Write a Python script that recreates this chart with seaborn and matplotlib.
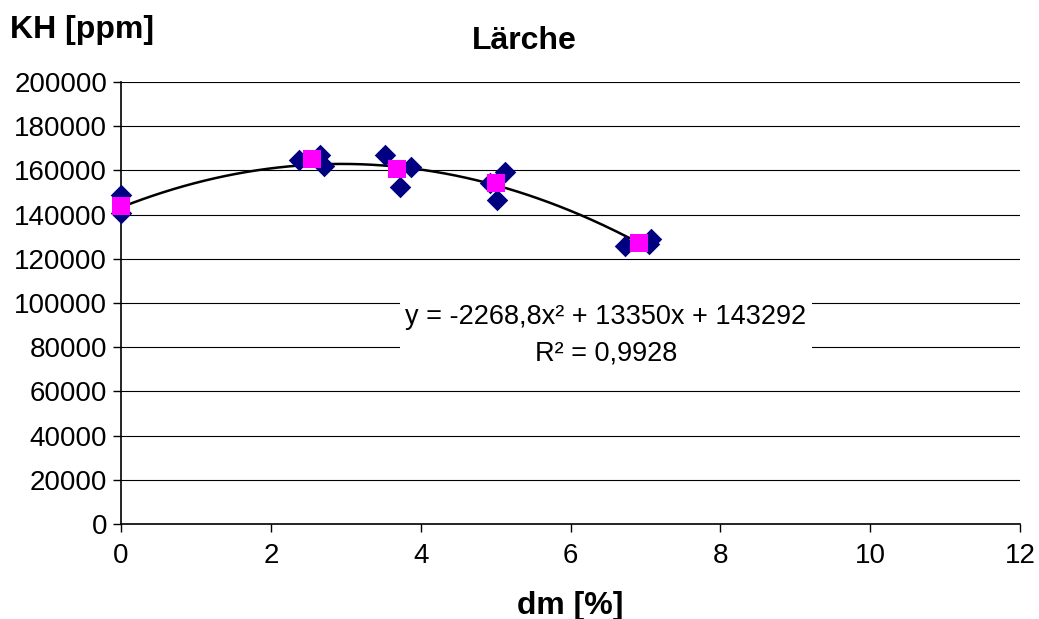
import numpy as np
import pandas as pd
import matplotlib
matplotlib.use("Agg")
import matplotlib.pyplot as plt
import seaborn as sns

# raw measurements
dm_raw = [0.0, 0.0, 2.38, 2.65, 2.71, 3.53, 3.73, 3.87, 4.93, 5.02, 5.13, 6.73, 7.05, 7.08]
kh_raw = [149000, 140500, 164700, 166800, 162200, 166800, 152400, 161400, 154200, 146600, 159100, 125800, 126800, 128800]
# means
dm_mean = [0.0, 2.55, 3.68, 5.01, 6.91]
kh_mean = [143900, 165300, 160800, 154400, 127100]
# trendline coefficients (a x^2 + b x + c)
coef = [-2268.8, 13350, 143292]

x_ticks = [0, 2, 4, 6, 8, 10, 12]
y_ticks = [0, 20000, 40000, 60000, 80000, 100000, 120000, 140000, 160000, 180000, 200000]

sns.set_theme(style="white")
plt.rcParams['font.family'] = ['Liberation Sans', 'DejaVu Sans']
plt.rcParams['text.color'] = 'black'
plt.rcParams['xtick.color'] = 'black'
plt.rcParams['ytick.color'] = 'black'

fig = plt.figure(figsize=(10.39, 6.19), dpi=100)
ax = fig.add_axes([121/1039, 1-524/619, (1020-121)/1039, (524-82)/619])

ax.set_xlim(0, 12)
ax.set_ylim(0, 200000)
for yt in y_ticks:
    ax.axhline(yt, color='black', lw=0.8, zorder=0)

xs = np.linspace(0, 6.93, 200)
ys = np.polyval(coef, xs)
ax.plot(xs, ys, color='black', lw=1.8, zorder=2)

raw = pd.DataFrame({'dm': dm_raw, 'kh': kh_raw})
mean = pd.DataFrame({'dm': dm_mean, 'kh': kh_mean})
sns.scatterplot(data=raw, x='dm', y='kh', marker='D', s=120, color='#000080',
                edgecolor='#000080', linewidth=0, ax=ax, zorder=3, clip_on=False)
sns.scatterplot(data=mean, x='dm', y='kh', marker='s', s=150, color='#FF00FF',
                edgecolor='#FF00FF', linewidth=0, ax=ax, zorder=4, clip_on=False)

ax.set_xticks(x_ticks)
ax.set_yticks(y_ticks)
ax.set_xticklabels([str(t) for t in x_ticks], fontsize=20)
ax.set_yticklabels([str(t) for t in y_ticks], fontsize=20)
ax.tick_params(axis='both', direction='out', length=6, width=1, color='black',
               bottom=True, left=True, labelcolor='black')
ax.tick_params(axis='x', pad=8)
ax.tick_params(axis='y', pad=4)
for s in ['top', 'right']:
    ax.spines[s].set_visible(False)
for s in ['left', 'bottom']:
    ax.spines[s].set_color('black')
    ax.spines[s].set_linewidth(1.2)
ax.set_xlabel('')
ax.set_ylabel('')
ax.grid(False)

fig.text(570/1039, 1-606/619, 'dm [%]', fontsize=23, fontweight='bold', va='center', ha='center', color='black')
fig.text(10/1039, 1-30/619, 'KH [ppm]', fontsize=23, fontweight='bold', va='center', ha='left', color='black')
fig.text(524/1039, 1-41/619, 'Lärche', fontsize=23, fontweight='bold', va='center', ha='center', color='black')

a, b, c = coef
eq = f"y = {a:.1f}x² + {b:g}x + {c:g}".replace('.', ',')
r2 = "R² = 0,9928"
ax.text((606-121)/899, 1 - (335-82)/442, eq + "\n" + r2, transform=ax.transAxes,
        ha='center', va='center', fontsize=19.5, linespacing=1.55, zorder=5, color='black',
        bbox=dict(facecolor='white', edgecolor='none', pad=4))

fig.savefig('out.png', dpi=100)
